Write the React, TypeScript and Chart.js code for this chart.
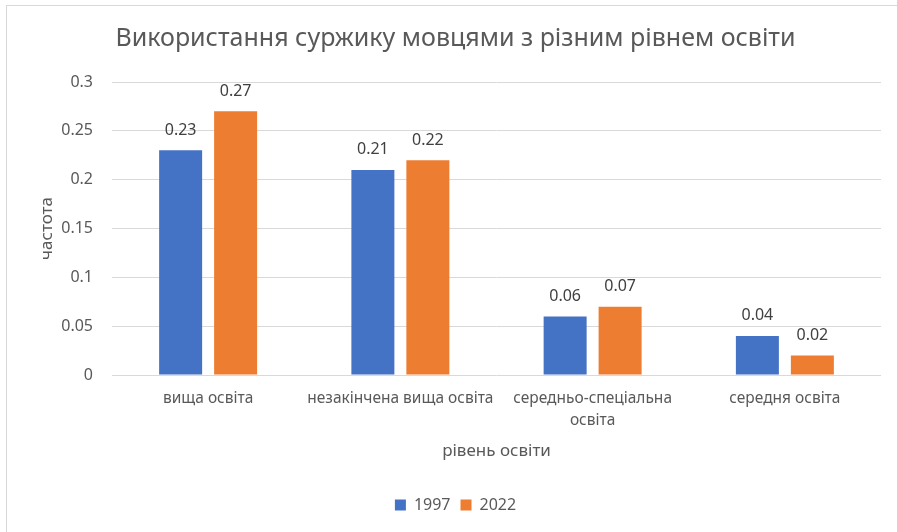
import React, { useEffect, useRef } from 'react';
import { Chart, registerables } from 'chart.js';

Chart.register(...registerables);

const chartTitle = 'Використання суржику мовцями з різним рівнем освіти';
const categories: (string | string[])[] = [
  'вища освіта',
  'незакінчена вища освіта',
  ['середньо-спеціальна', 'освіта'],
  'середня освіта',
];
const seriesNames = ['1997', '2022'];
const values1997 = [0.23, 0.21, 0.06, 0.04];
const values2022 = [0.27, 0.22, 0.07, 0.02];
const yMin = 0;
const yMax = 0.3;
const yStep = 0.05;
const xTitle = 'рівень освіти';
const yTitle = 'частота';

const FONT = '"Noto Sans", "Open Sans", sans-serif';

const dataLabelPlugin = {
  id: 'dataLabels',
  afterDatasetsDraw(chart: any) {
    const ctx = chart.ctx;
    ctx.save();
    ctx.font = `16px ${FONT}`;
    ctx.fillStyle = '#404040';
    ctx.textAlign = 'center';
    ctx.textBaseline = 'middle';
    chart.data.datasets.forEach((ds: any, i: number) => {
      const meta = chart.getDatasetMeta(i);
      meta.data.forEach((bar: any, j: number) => {
        ctx.fillText(String(ds.data[j]), bar.x, bar.y - 20);
      });
    });
    ctx.restore();
  },
};

export default function App() {
  const canvasRef = useRef<HTMLCanvasElement | null>(null);

  useEffect(() => {
    if (!canvasRef.current) return;
    Chart.defaults.font.family = FONT;
    const chart = new Chart(canvasRef.current, {
      type: 'bar',
      data: {
        labels: categories,
        datasets: [
          {
            label: seriesNames[0],
            data: values1997,
            backgroundColor: '#4472C4',
            borderWidth: 0,
            categoryPercentage: 0.572,
            barPercentage: 0.782,
          },
          {
            label: seriesNames[1],
            data: values2022,
            backgroundColor: '#ED7D31',
            borderWidth: 0,
            categoryPercentage: 0.572,
            barPercentage: 0.782,
          },
        ],
      },
      options: {
        responsive: false,
        animation: false,
        layout: { padding: { left: 30, right: 16, top: 0, bottom: 9 } },
        plugins: {
          title: {
            display: true,
            text: chartTitle,
            color: '#595959',
            font: { size: 25, weight: 'normal', family: FONT, lineHeight: 1.2 },
            padding: { top: 23.6, bottom: 28.4 },
          },
          legend: {
            position: 'bottom',
            labels: {
              boxWidth: 11,
              boxHeight: 11,
              color: '#595959',
              font: { size: 16, family: FONT },
              padding: 10,
            },
          },
          tooltip: { enabled: false },
        },
        scales: {
          x: {
            grid: { display: false, drawTicks: false },
            border: { display: false },
            ticks: {
              color: '#595959',
              font: { size: 15.5, family: FONT, lineHeight: 1.42 },
              padding: 13,
              autoSkip: false,
              maxRotation: 0,
              minRotation: 0,
            },
            title: {
              display: true,
              text: xTitle,
              color: '#595959',
              font: { size: 17, family: FONT, lineHeight: 1.2 },
              padding: { top: 4, bottom: 25.8 },
            },
            afterFit(scale: any) {
              scale.height = 112;
            },
          },
          y: {
            min: yMin,
            max: yMax,
            grid: { color: '#D9D9D9', drawTicks: false, lineWidth: 1 },
            border: { display: false },
            ticks: {
              stepSize: yStep,
              color: '#595959',
              font: { size: 16, family: FONT },
              padding: 19,
              callback: (v: any) => String(+Number(v).toFixed(2)),
            },
            title: {
              display: true,
              text: yTitle,
              color: '#595959',
              font: { size: 17, family: FONT, lineHeight: 1.2 },
              padding: { top: 6.8, bottom: 4 },
            },
            afterFit(scale: any) {
              scale.width = 82;
            },
          },
        },
      },
      plugins: [dataLabelPlugin],
    });
    return () => chart.destroy();
  }, []);

  return (
    <div style={{ position: 'fixed', left: 0, top: 0, width: 897, height: 532, background: '#ffffff', overflow: 'hidden' }}>
      <div
        style={{
          position: 'absolute',
          left: 6,
          top: 5,
          width: 900,
          height: 540,
          borderLeft: '1px solid #D9D9D9',
          borderTop: '1px solid #D9D9D9',
        }}
      />
      <canvas
        ref={canvasRef}
        width={897}
        height={532}
        style={{ position: 'absolute', left: 0, top: 0, width: 897, height: 532 }}
      />
    </div>
  );
}
